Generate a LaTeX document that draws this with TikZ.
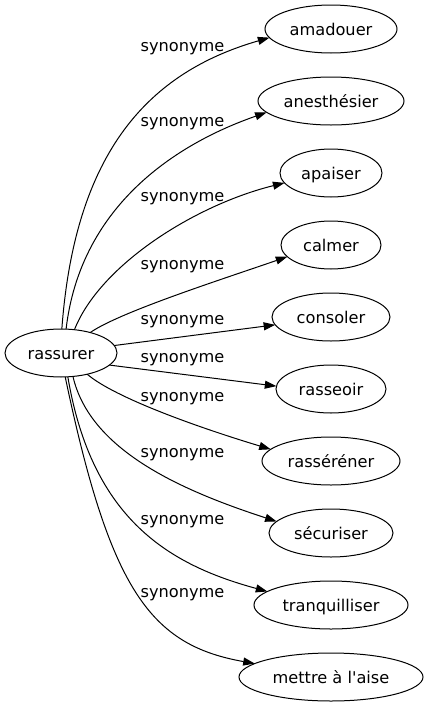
\documentclass[tikz,border=0pt]{standalone}
\usepackage{fontspec}
\setmainfont{DejaVu Sans}[Ligatures=TeXOff]
\usetikzlibrary{shapes.geometric,arrows.meta}
\begin{document}
\begin{tikzpicture}[x=1pt,y=-1pt,
  word/.style={ellipse,draw,line width=1pt,inner sep=0pt,outer sep=0pt,
    minimum height=48pt,text height=13pt,text depth=1pt,
    font=\fontsize{16.2}{19}\selectfont},
  lab/.style={inner sep=0pt,font=\fontsize{16.2}{19}\selectfont},
  syn/.style={line width=1pt,-{Triangle[length=11.6pt,width=8pt]}}]
\useasboundingbox (0,0) rectangle (425,707);
\node[word,minimum width=112pt] (r) at (61,353) {rassurer};
\node[word,minimum width=132pt] (n1) at (331,29) {amadouer};
\node[word,minimum width=146pt] (n2) at (331,101) {anesthésier};
\node[word,minimum width=102pt] (n3) at (331,173) {apaiser};
\node[word,minimum width=100pt] (n4) at (331,245) {calmer};
\node[word,minimum width=118pt] (n5) at (331,317) {consoler};
\node[word,minimum width=110pt] (n6) at (331,389) {rasseoir};
\node[word,minimum width=138pt] (n7) at (331,461) {rasséréner};
\node[word,minimum width=124pt] (n8) at (331,533) {sécuriser};
\node[word,minimum width=154pt] (n9) at (331,605) {tranquilliser};
\node[word,minimum width=184pt] (n10) at (331,677) {mettre à l'aise};
\draw[syn] (r.88) .. controls (75,150) and (150,72) .. (n1.188);
\draw[syn] (r.78) .. controls (80,210) and (170,146) .. (n2.190);
\draw[syn] (r.60) .. controls (100,265) and (195,205) .. (n3.192);
\draw[syn] (r.35) .. controls (120,312) and (220,280) .. (n4.195);
\draw[syn] (r.8) -- (n5.188);
\draw[syn] (r.346) -- (n6.177);
\draw[syn] (r.321) .. controls (115,398) and (200,428) .. (n7.169);
\draw[syn] (r.297) .. controls (90,450) and (180,490) .. (n8.168);
\draw[syn] (r.286) .. controls (92,520) and (170,565) .. (n9.168);
\draw[syn] (r.280) .. controls (110,590) and (150,645) .. (n10.170);
\node[lab] (l1) at (182.5,48.3) {synonyme};
\node[lab] (l2) at (182.5,123.7) {synonyme};
\node[lab] (l3) at (182.5,198.3) {synonyme};
\node[lab] (l4) at (182.5,266.7) {synonyme};
\node[lab] (l5) at (182.5,321.7) {synonyme};
\node[lab] (l6) at (182.5,360) {synonyme};
\node[lab] (l7) at (182.5,398.3) {synonyme};
\node[lab] (l8) at (182.5,455) {synonyme};
\node[lab] (l9) at (182.5,521.7) {synonyme};
\node[lab] (l10) at (182.5,595) {synonyme};
\end{tikzpicture}
\end{document}
